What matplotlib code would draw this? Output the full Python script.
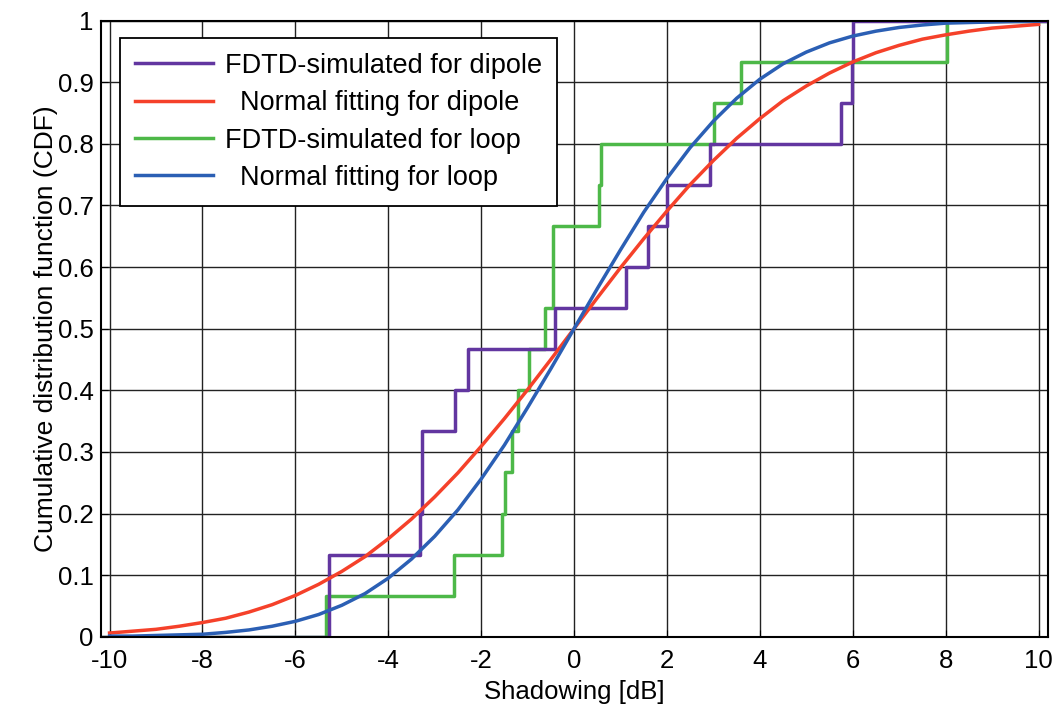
import numpy as np
import matplotlib
matplotlib.use('Agg')
import matplotlib.pyplot as plt

plt.rcParams['font.family'] = ['Liberation Sans', 'DejaVu Sans']

# shadowing samples [dB]
dipole_sim = [-5.27, -5.27, -3.31, -3.28, -3.27, -2.56, -2.28, -0.42,
              1.12, 1.60, 2.00, 2.93, 5.75, 5.99, 6.00]
loop_sim = [-5.34, -2.59, -1.55, -1.48, -1.34, -1.21, -0.98, -0.62,
            -0.45, -0.45, 0.54, 0.59, 3.02, 3.60, 8.03]

# fitted normal CDFs, read every 0.5 dB
x_fit = [-10, -9.5, -9, -8.5, -8, -7.5, -7, -6.5, -6, -5.5, -5, -4.5, -4, -3.5,
         -3, -2.5, -2, -1.5, -1, -0.5, 0, 0.5, 1, 1.5, 2, 2.5, 3, 3.5, 4, 4.5,
         5, 5.5, 6, 6.5, 7, 7.5, 8, 8.5, 9, 9.5, 10]
dipole_fit = [0.006, 0.009, 0.012, 0.017, 0.023, 0.030, 0.040, 0.052, 0.067,
              0.085, 0.106, 0.130, 0.159, 0.191, 0.227, 0.266, 0.309, 0.354,
              0.401, 0.450, 0.500, 0.550, 0.599, 0.646, 0.691, 0.734, 0.773,
              0.809, 0.841, 0.870, 0.894, 0.915, 0.933, 0.948, 0.960, 0.970,
              0.977, 0.983, 0.988, 0.991, 0.994]
loop_fit = [0.001, 0.001, 0.002, 0.003, 0.004, 0.007, 0.011, 0.017, 0.025,
            0.036, 0.051, 0.070, 0.095, 0.126, 0.163, 0.206, 0.256, 0.311,
            0.372, 0.435, 0.500, 0.565, 0.628, 0.689, 0.744, 0.794, 0.837,
            0.874, 0.905, 0.930, 0.949, 0.964, 0.975, 0.983, 0.989, 0.993,
            0.996, 0.997, 0.998, 0.999, 0.999]

xticks = [-10, -8, -6, -4, -2, 0, 2, 4, 6, 8, 10]
yticks = [0, 0.1, 0.2, 0.3, 0.4, 0.5, 0.6, 0.7, 0.8, 0.9, 1]
ytick_labels = ['0', '0.1', '0.2', '0.3', '0.4', '0.5', '0.6', '0.7', '0.8', '0.9', '1']

labels = ['FDTD-simulated for dipole', '  Normal fitting for dipole',
          'FDTD-simulated for loop', '  Normal fitting for loop']
colors = ['#6236a0', '#f5412a', '#4db848', '#2b5fb4']

xmin, xmax = -10.19, 10.21


def ecdf(samples):
    s = np.sort(samples)
    n = len(s)
    x = np.concatenate([[xmin], s, [xmax]])
    y = np.concatenate([[0], np.arange(1, n + 1) / n, [1]])
    return x, y


fig = plt.figure(figsize=(10.56, 7.13), dpi=100)
ax = fig.add_axes([0.0954, 0.107, 0.8973, 0.864])

xd, yd = ecdf(dipole_sim)
xl, yl = ecdf(loop_sim)
lw = 2.5
h3, = ax.step(xl, yl, where='post', color=colors[2], lw=lw, zorder=3)
h1, = ax.step(xd, yd, where='post', color=colors[0], lw=lw, zorder=4)
h2, = ax.plot(x_fit, dipole_fit, color=colors[1], lw=lw, zorder=5)
h4, = ax.plot(x_fit, loop_fit, color=colors[3], lw=lw, zorder=6)

ax.set_xlim(xmin, xmax)
ax.set_ylim(0, 1)
ax.set_xticks(xticks)
ax.set_xticklabels([str(t) for t in xticks])
ax.set_yticks(yticks)
ax.set_yticklabels(ytick_labels)
ax.tick_params(direction='in', length=5, labelsize=18.5, pad=5)
ax.tick_params(axis='x', pad=9)
ax.grid(True, color='#222222', lw=1.0)
ax.set_axisbelow(True)
for sp in ax.spines.values():
    sp.set_linewidth(1.5)
    sp.set_zorder(7)

ax.set_xlabel('Shadowing [dB]', fontsize=18.5, labelpad=5)
ax.set_ylabel('Cumulative distribution function (CDF)', fontsize=19, labelpad=0)

leg = ax.legend([h1, h2, h3, h4], labels, loc='upper left',
                bbox_to_anchor=(0.02, 0.972), borderaxespad=0, fontsize=19.5,
                frameon=True, fancybox=False, edgecolor='black', framealpha=1,
                handlelength=2.9, handletextpad=0.45, labelspacing=0.42,
                borderpad=0.55)
leg.get_frame().set_linewidth(1.3)
leg.set_zorder(10)

plt.savefig('out.png', dpi=100)
